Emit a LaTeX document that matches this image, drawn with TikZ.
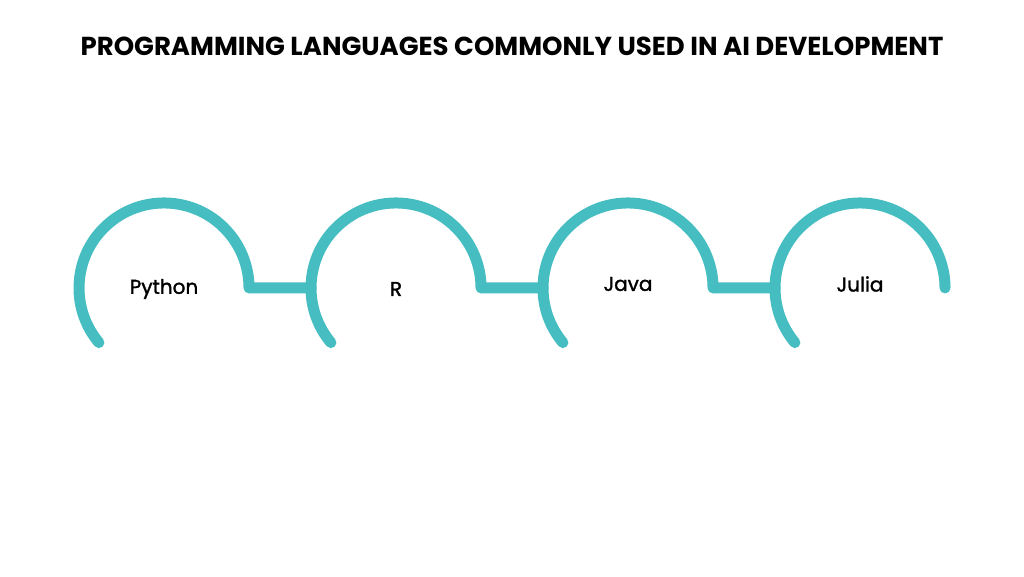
\documentclass[tikz,border=0pt]{standalone}
\usepackage{fontspec}
\setmainfont{Poppins}
\newfontfamily\langfont{Poppins}[FakeBold=1.5]
\definecolor{teal}{RGB}{69,189,193}
\tikzset{
  ring/.style={draw=teal,line width=11pt,line cap=round,line join=round},
  lang/.style={font=\langfont\fontsize{20}{24}\selectfont},
}
\begin{document}
\begin{tikzpicture}[x=1pt,y=1pt]
\useasboundingbox (0,0) rectangle (1024,576);

  \node (T) at (512,530) {\fontsize{26}{30}\selectfont\bfseries PROGRAMMING LANGUAGES COMMONLY USED IN AI DEVELOPMENT};

  % where each ring starts and meets the line from the left
  \coordinate (PYs) at (98.9,233.4);
  \coordinate (Rs) at (330.9,233.4);
  \coordinate (JAs) at (562.9,233.4);
  \coordinate (JUs) at (794.9,233.4);
  \coordinate (Rl) at (311,288);
  \coordinate (JAl) at (543,288);
  \coordinate (JUl) at (775,288);

  \draw[ring] (PYs) arc[start angle=220,end angle=0,radius=85] -- (Rl);
  \draw[ring] (Rs) arc[start angle=220,end angle=0,radius=85] -- (JAl);
  \draw[ring] (JAs) arc[start angle=220,end angle=0,radius=85] -- (JUl);
  \draw[ring] (JUs) arc[start angle=220,end angle=0,radius=85];

  \node[lang] (PY) at (164,287) {Python};
  \node[lang] (R) at (396,287) {R};
  \node[lang] (JA) at (628,292) {Java};
  \node[lang] (JU) at (860,292) {Julia};
\end{tikzpicture}
\end{document}
